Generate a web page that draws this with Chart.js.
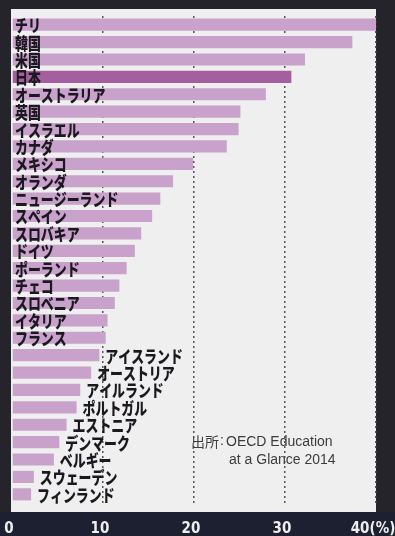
<!DOCTYPE html>
<html>
<head>
<meta charset="utf-8">
<script src="https://cdn.jsdelivr.net/npm/chart.js@4"></script>
<style>
html,body{margin:0;padding:0;background:#24242a;}
canvas{display:block;}
</style>
</head>
<body>
<canvas id="c" width="395" height="536" style="width:395px;height:536px"></canvas>
<script>
const categories = ['チリ','韓国','米国','日本','オーストラリア','英国','イスラエル','カナダ','メキシコ','オランダ','ニュージーランド','スペイン','スロバキア','ドイツ','ポーランド','チェコ','スロベニア','イタリア','フランス','アイスランド','オーストリア','アイルランド','ポルトガル','エストニア','デンマーク','ベルギー','スウェーデン','フィンランド'];
const values = [40, 37.4, 32.2, 30.7, 27.9, 25.1, 24.9, 23.6, 19.9, 17.7, 16.3, 15.4, 14.2, 13.5, 12.6, 11.8, 11.3, 10.5, 10.3, 9.6, 8.7, 7.5, 7.1, 6.0, 5.2, 4.6, 2.4, 2.1];
const highlight = '日本';
const insideCount = 19; // labels drawn inside bars for the first rows
const xTicks = [0, 10, 20, 30, 40];
const sourceLines = ['出所', 'OECD Education', 'at a Glance 2014'];

const BAR = '#c8a2cb';
const BAR_HI = '#a45f9f';

const bgPlugin = {
  id: 'bg',
  beforeDraw(chart) {
    const ctx = chart.ctx;
    ctx.save();
    ctx.fillStyle = '#24242a';
    ctx.fillRect(0, 0, chart.width, chart.height);
    ctx.fillStyle = '#1d2030';
    ctx.fillRect(0, 512, chart.width, chart.height - 512);
    const a = chart.chartArea;
    ctx.fillStyle = '#efefef';
    ctx.fillRect(a.left - 1, 9, a.right - a.left + 1, 512 - 9);
    ctx.restore();
  }
};

const labelPlugin = {
  id: 'labels',
  afterDatasetsDraw(chart) {
    const ctx = chart.ctx;
    const xs = chart.scales.x, ys = chart.scales.y;
    ctx.save();
    ctx.fillStyle = '#1c1820';
    ctx.textBaseline = 'middle';
    ctx.textAlign = 'left';
    ctx.font = '900 17px "Noto Sans CJK JP", sans-serif';
    categories.forEach((c, i) => {
      const y = ys.getPixelForValue(i);
      let x;
      if (i < insideCount) x = xs.getPixelForValue(0) + 3;
      else x = xs.getPixelForValue(values[i]) + 6;
      ctx.save();
      ctx.translate(x, y + 1);
      ctx.scale(0.76, 1);
      ctx.fillText(c, 0, 0);
      ctx.restore();
    });
    // source note
    ctx.fillStyle = '#3c3c3c';
    ctx.font = '14px "Noto Sans CJK JP", sans-serif';
    ctx.fillText(sourceLines[0], 191, 442);
    ctx.font = '14px "Liberation Sans", Arial, sans-serif';
    ctx.fillText(':', 220, 441);
    ctx.fillText(sourceLines[1], 226, 442);
    ctx.fillText(sourceLines[2], 229, 460);
    ctx.restore();
  }
};

new Chart(document.getElementById('c'), {
  type: 'bar',
  data: {
    labels: categories,
    datasets: [{
      data: values,
      backgroundColor: categories.map(c => c === highlight ? BAR_HI : BAR),
      borderWidth: 0,
      barPercentage: 0.7,
      categoryPercentage: 1.0
    }]
  },
  options: {
    indexAxis: 'y',
    responsive: false,
    devicePixelRatio: 1,
    animation: false,
    layout: { padding: { left: 12, right: 19, top: 16, bottom: 0 } },
    plugins: { legend: { display: false }, tooltip: { enabled: false } },
    scales: {
      x: {
        min: 0, max: 40,
        afterBuildTicks(scale) { scale.ticks = xTicks.map(v => ({ value: v })); },
        afterFit(scale) { scale.height = 33; scale.paddingLeft = 0; scale.paddingRight = 0; },
        grid: {
          drawTicks: false,
          color: ctx => (ctx.tick && ctx.tick.value === 0) ? 'rgba(0,0,0,0)' : '#555555',
          lineWidth: 1.5
        },
        border: { display: false, dash: [2, 3] },
        ticks: {
          padding: 17,
          labelOffset: -3,
          color: '#eeeeee',
          font: { family: '"DejaVu Sans Condensed", "DejaVu Sans", sans-serif', weight: 'bold', size: 15 },
          callback: v => v === 40 ? '40(%)' : String(v)
        }
      },
      y: {
        display: false
      }
    }
  },
  plugins: [bgPlugin, labelPlugin]
});
</script>
</body>
</html>
